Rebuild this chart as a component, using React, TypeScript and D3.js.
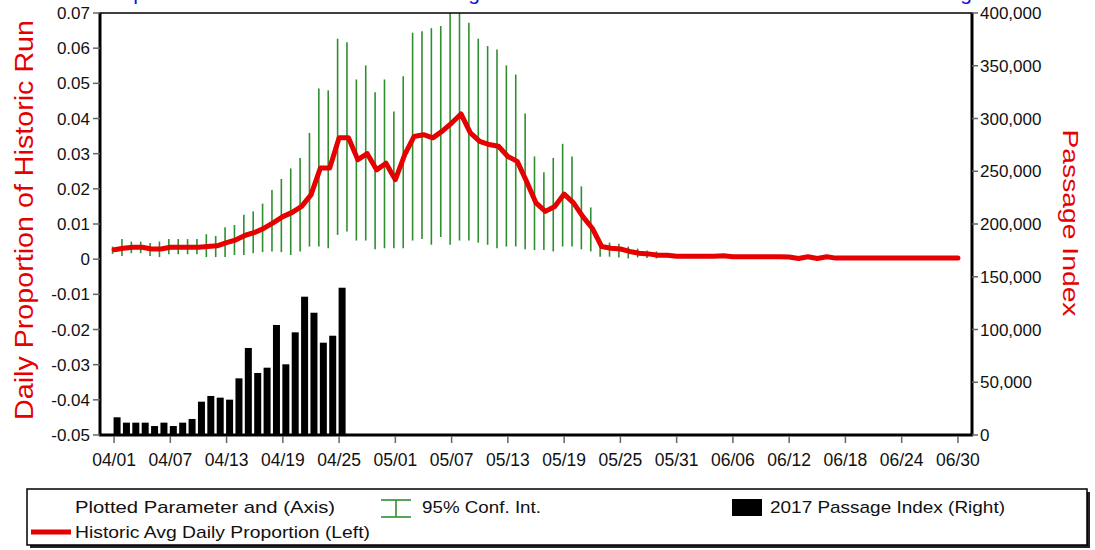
import { useMemo } from "react";
import * as d3 from "d3";

// historic average daily proportion, one value per day from 04/01 to 06/30
const histAvg = [
  0.0027, 0.0031, 0.0034, 0.0034, 0.0029, 0.0029, 0.0034, 0.0034, 0.0034, 0.0034,
  0.0036, 0.0038, 0.0047, 0.0055, 0.0068, 0.0076, 0.0088, 0.0104, 0.0121, 0.0133,
  0.015, 0.0183, 0.0259, 0.0259, 0.0345, 0.0345, 0.0283, 0.03, 0.0254, 0.0273,
  0.0226, 0.0297, 0.0349, 0.0354, 0.0345, 0.0364, 0.0387, 0.0413, 0.0359, 0.0335,
  0.0326, 0.0321, 0.0292, 0.0278, 0.0221, 0.016, 0.0136, 0.015, 0.0185, 0.016,
  0.0121, 0.0088, 0.0036, 0.0031, 0.0029, 0.0022, 0.0017, 0.0015, 0.0011, 0.0011,
  0.0008, 0.0008, 0.0008, 0.0008, 0.0008, 0.001, 0.0007, 0.0007, 0.0007, 0.0007,
  0.0007, 0.0007, 0.0006, 0.0002, 0.0007, 0.0002, 0.0007, 0.0003, 0.0003, 0.0003,
  0.0003, 0.0003, 0.0003, 0.0003, 0.0003, 0.0003, 0.0003, 0.0003, 0.0003, 0.0003,
  0.0003,
];

// 95% confidence interval, 04/01 to 05/29 (later ones hide under the line)
const ciUpper = [
  0.0036, 0.0057, 0.005, 0.005, 0.0046, 0.005, 0.0057, 0.0057, 0.0057, 0.0057,
  0.0071, 0.0066, 0.0091, 0.0097, 0.0126, 0.0136, 0.0158, 0.0197, 0.0228, 0.0258,
  0.0288, 0.0359, 0.0485, 0.048, 0.0627, 0.0617, 0.0511, 0.0551, 0.0475, 0.0511,
  0.042, 0.052, 0.0644, 0.0648, 0.0657, 0.0663, 0.0705, 0.0705, 0.0672, 0.0627,
  0.0606, 0.0596, 0.0551, 0.0525, 0.0414, 0.0292, 0.0247, 0.0288, 0.0328, 0.0292,
  0.0207, 0.0147, 0.0055, 0.0047, 0.0044, 0.0036, 0.003, 0.0025, 0.0022,
];
const ciLower = [
  0.0015, 0.0009, 0.0017, 0.0017, 0.0009, 0.0006, 0.0014, 0.0014, 0.0014, 0.0014,
  0.0006, 0.0006, 0.0006, 0.0012, 0.0012, 0.0017, 0.002, 0.0022, 0.002, 0.0012,
  0.0022, 0.0036, 0.0036, 0.0031, 0.0069, 0.0079, 0.0053, 0.0053, 0.0028, 0.0031,
  0.0031, 0.0031, 0.0053, 0.0057, 0.0041, 0.0063, 0.0041, 0.0053, 0.0053, 0.0047,
  0.0041, 0.0031, 0.0036, 0.0036, 0.0028, 0.0026, 0.0026, 0.0022, 0.0036, 0.0036,
  0.0028, 0.0022, 0.0007, 0.0007, 0.0005, 0.0002, 0.0005, 0.0003, 0.0002,
];

// 2017 passage index, 04/01 to 04/25
const passage2017 = [
  16800, 11700, 11700, 11700, 8500, 11700, 8500, 11700, 15200, 31600,
  37000, 35400, 33500, 53700, 82500, 58800, 63800, 104300, 67000, 97300,
  131100, 115900, 87500, 94100, 139600,
];

const tickLabels = [
  "04/01", "04/07", "04/13", "04/19", "04/25", "05/01", "05/07", "05/13",
  "05/19", "05/25", "05/31", "06/06", "06/12", "06/18", "06/24", "06/30",
];
const leftTicks = [0.07, 0.06, 0.05, 0.04, 0.03, 0.02, 0.01, 0, -0.01, -0.02, -0.03, -0.04, -0.05];
const leftTickLabels = ["0.07", "0.06", "0.05", "0.04", "0.03", "0.02", "0.01", "0", "-0.01", "-0.02", "-0.03", "-0.04", "-0.05"];
const rightTicks = [0, 50000, 100000, 150000, 200000, 250000, 300000, 350000, 400000];

const W = 1095;
const H = 550;
const plot = { left: 100, right: 972, top: 13, bottom: 435 };
const font = "'Liberation Sans', Arial, sans-serif";
const red = "#e60000";
const green = "#2f8f2f";

export default function App() {
  const x = d3.scaleLinear().domain([-1.5, 91.5]).range([plot.left, plot.right]);
  const yL = d3.scaleLinear().domain([-0.05, 0.07]).range([plot.bottom, plot.top]);
  const yR = d3.scaleLinear().domain([0, 400000]).range([plot.bottom, plot.top]);
  const fmtR = d3.format(",");

  const linePath = useMemo(() => {
    const fn = d3
      .line<number>()
      .x((_, i) => x(i))
      .y((d) => yL(d));
    return fn(histAvg) ?? "";
  }, []);

  const barW = 7;

  return (
    <svg
      width={W}
      height={H}
      style={{ position: "absolute", left: 0, top: 0, display: "block", background: "#fff" }}
      fontFamily={font}
    >
      <defs>
        <clipPath id="plotClip">
          <rect x={plot.left} y={plot.top} width={plot.right - plot.left} height={plot.bottom - plot.top} />
        </clipPath>
      </defs>

      {/* title, cut off above the picture: only descenders show */}
      <text x={71} y={-0.5} fontSize={21} fill="#1010e0" letterSpacing={6}>
        Comparison of 2017 Passage Index with Historic Run Timing
      </text>

      <g clipPath="url(#plotClip)">
        {ciUpper.map((u, i) => (
          <line
            key={"ci" + i}
            x1={x(i) - 1.5}
            x2={x(i) - 1.5}
            y1={yL(u)}
            y2={yL(ciLower[i])}
            stroke={green}
            strokeWidth={1.6}
          />
        ))}
        {passage2017.map((v, i) => (
          <rect
            key={"b" + i}
            x={x(i) + 3 - barW / 2}
            y={yR(v)}
            width={barW}
            height={plot.bottom - yR(v)}
            fill="#000"
          />
        ))}
        <path d={linePath} fill="none" stroke={red} strokeWidth={5} strokeLinejoin="round" strokeLinecap="round" />
      </g>

      {/* frame */}
      <rect
        x={plot.left}
        y={plot.top}
        width={plot.right - plot.left}
        height={plot.bottom - plot.top}
        fill="none"
        stroke="#000"
        strokeWidth={1.5}
      />
      <line x1={plot.left} x2={plot.left} y1={plot.top} y2={plot.bottom + 1} stroke="#000" strokeWidth={3} />
      <line x1={plot.right} x2={plot.right} y1={plot.top} y2={plot.bottom + 1} stroke="#000" strokeWidth={3} />
      <line x1={plot.left - 1} x2={plot.right + 1} y1={plot.bottom} y2={plot.bottom} stroke="#000" strokeWidth={3} />

      {/* left axis */}
      {leftTicks.map((t, i) => (
        <g key={"l" + i}>
          <line x1={plot.left - 7} x2={plot.left} y1={yL(t)} y2={yL(t)} stroke="#666" strokeWidth={1.5} />
          <text x={plot.left - 10} y={yL(t)} dy="0.36em" textAnchor="end" fontSize={17} fill="#111">
            {leftTickLabels[i]}
          </text>
        </g>
      ))}

      {/* right axis */}
      {rightTicks.map((t) => (
        <g key={"r" + t}>
          <line x1={plot.right} x2={plot.right + 6} y1={yR(t)} y2={yR(t)} stroke="#666" strokeWidth={1.5} />
          <text x={plot.right + 8} y={yR(t)} dy="0.36em" fontSize={17} fill="#111">
            {fmtR(t)}
          </text>
        </g>
      ))}

      {/* x axis */}
      {tickLabels.map((lab, i) => (
        <g key={"x" + i}>
          <line x1={x(i * 6)} x2={x(i * 6)} y1={plot.bottom + 1} y2={plot.bottom + 8} stroke="#666" strokeWidth={1.5} />
          <text x={x(i * 6)} y={466} textAnchor="middle" fontSize={17.5} fill="#111">
            {lab}
          </text>
        </g>
      ))}

      {/* axis titles */}
      <text
        transform="translate(33,220) rotate(-90)"
        textAnchor="middle"
        fontSize={26}
        fill={red}
        textLength={400}
        lengthAdjust="spacingAndGlyphs"
      >
        Daily Proportion of Historic Run
      </text>
      <text
        transform="translate(1063,223) rotate(90)"
        textAnchor="middle"
        fontSize={22}
        fill={red}
        textLength={187}
        lengthAdjust="spacingAndGlyphs"
      >
        Passage Index
      </text>

      {/* legend */}
      <rect x={30} y={492} width={1060} height={56} fill="#222" />
      <rect x={27} y={489} width={1060} height={56} fill="#fff" stroke="#000" strokeWidth={1.5} />
      <text x={75} y={513} fontSize={17} fill="#111" textLength={260} lengthAdjust="spacingAndGlyphs">
        Plotted Parameter and (Axis)
      </text>
      <line x1={396} x2={396} y1={500} y2={517} stroke={green} strokeWidth={1.6} />
      <line x1={381} x2={411} y1={500} y2={500} stroke={green} strokeWidth={1.6} />
      <line x1={381} x2={411} y1={517} y2={517} stroke={green} strokeWidth={1.6} />
      <text x={422} y={513} fontSize={17} fill="#111" textLength={119} lengthAdjust="spacingAndGlyphs">
        95% Conf. Int.
      </text>
      <rect x={732} y={499} width={30} height={17} fill="#000" />
      <text x={770} y={513} fontSize={17} fill="#111" textLength={235} lengthAdjust="spacingAndGlyphs">
        2017 Passage Index (Right)
      </text>
      <line x1={31} x2={71} y1={532} y2={532} stroke={red} strokeWidth={5} />
      <text x={75} y={538} fontSize={17} fill="#111" textLength={295} lengthAdjust="spacingAndGlyphs">
        Historic Avg Daily Proportion (Left)
      </text>
    </svg>
  );
}
